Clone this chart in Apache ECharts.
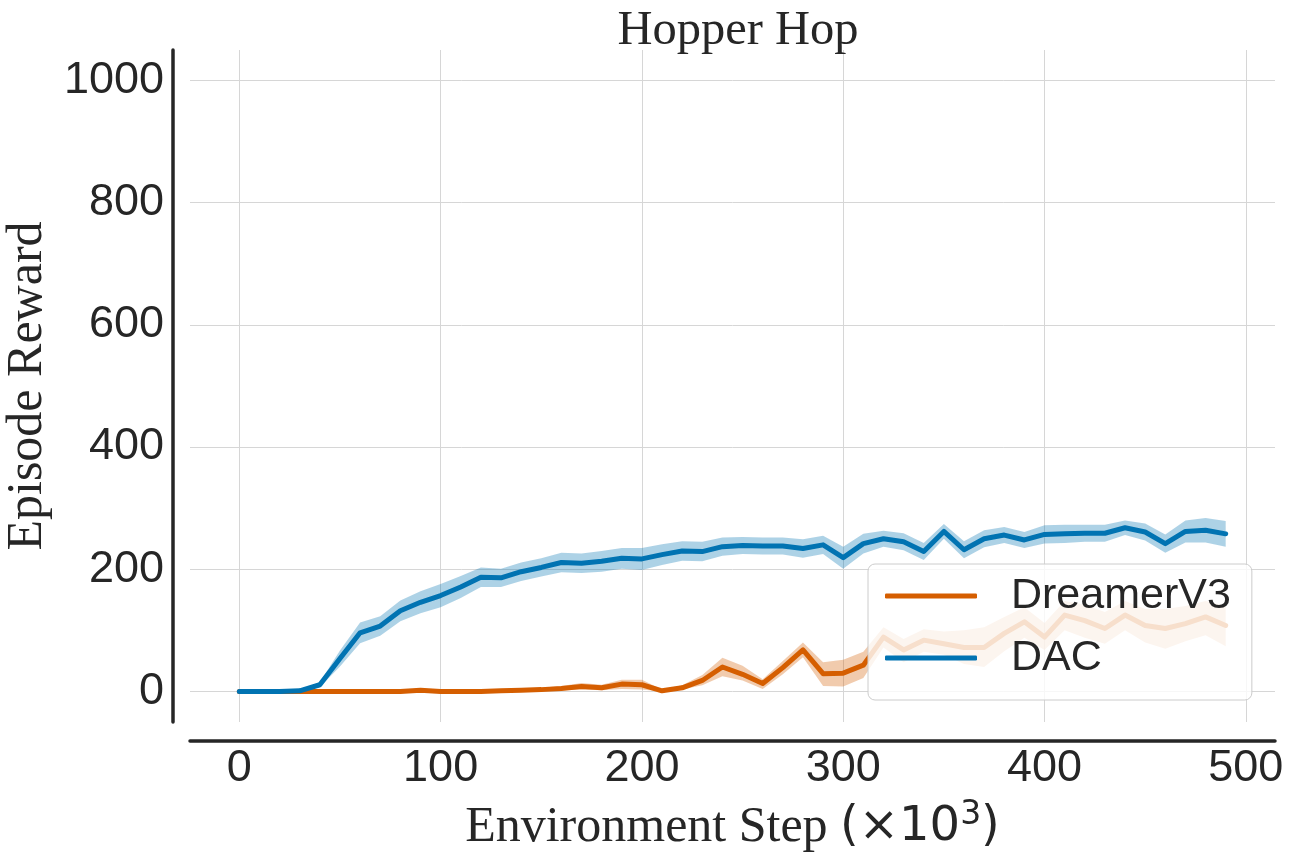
<!DOCTYPE html>
<html>
<head>
<meta charset="utf-8">
<script src="https://cdn.jsdelivr.net/npm/echarts@6/dist/echarts.min.js"></script>
<style>
html, body { margin: 0; padding: 0; background: #fff; }
#chart { width: 1296px; height: 864px; }
</style>
</head>
<body>
<div id="chart"></div>
<script>
// environment steps (x10^3)
var steps = [0, 10, 20, 30, 40, 50, 60, 70, 80, 90,
	100, 110, 120, 130, 140, 150, 160, 170, 180, 190,
	200, 210, 220, 230, 240, 250, 260, 270, 280, 290,
	300, 310, 320, 330, 340, 350, 360, 370, 380, 390,
	400, 410, 420, 430, 440, 450, 460, 470, 480, 490];

var dacMean = [0, 0, 0, 1, 11, 54, 96, 107, 132, 146,
	157, 171, 187, 186, 196, 203, 211, 210, 213, 218,
	217, 224, 230, 229, 237, 239, 238, 238, 234, 240,
	219, 242, 250, 245, 229, 262, 232, 250, 256, 248,
	257, 258, 259, 259, 268, 261, 242, 262, 264, 258];
var dacLow = [0, 0, 0, 0, 7, 41, 79, 91, 115, 128,
	138, 153, 171, 171, 181, 188, 195, 194, 196, 201,
	199, 207, 214, 213, 222, 225, 224, 224, 219, 225,
	201, 226, 237, 231, 215, 250, 218, 236, 243, 235,
	242, 243, 245, 245, 256, 247, 227, 244, 244, 237];
var dacHigh = [0, 0, 0, 2, 15, 67, 113, 123, 149, 164,
	176, 189, 203, 201, 211, 218, 227, 226, 230, 235,
	235, 241, 246, 245, 252, 253, 252, 252, 249, 255,
	237, 258, 263, 259, 243, 274, 246, 264, 269, 261,
	272, 273, 273, 273, 280, 275, 257, 280, 284, 279];

var dreamerMean = [0, 0, 0, 0, 0, 0, 0, 0, 0, 2,
	0, 0, 0, 1, 2, 3, 5, 8, 6, 12,
	11, 1, 6, 18, 40, 28, 13, 39, 68, 29,
	30, 43, 89, 68, 84, 78, 72, 72, 95, 114,
	89, 125, 116, 103, 125, 108, 103, 111, 122, 108];
var dreamerLow = [0, 0, 0, 0, 0, 0, 0, 0, 0, 0,
	0, 0, 0, 0, 1, 1, 2, 3, 2, 4,
	3, 0, 3, 10, 25, 18, 4, 28, 56, 9,
	8, 22, 72, 48, 65, 60, 45, 40, 66, 88,
	68, 100, 88, 78, 100, 80, 70, 82, 92, 74];
var dreamerHigh = [0, 0, 0, 0, 0, 0, 0, 0, 0, 4,
	1, 1, 1, 2, 4, 6, 9, 14, 11, 19,
	19, 3, 10, 27, 55, 42, 20, 50, 80, 48,
	52, 65, 105, 86, 102, 98, 100, 105, 122, 138,
	112, 148, 142, 130, 148, 135, 135, 140, 148, 140];

var xTicks = [0, 100, 200, 300, 400, 500];
var yTicks = [0, 200, 400, 600, 800, 1000];

var ink = '#262626';
var blue = '#0173b2';
var orange = '#d55e00';

function pairs(ys) {
	return steps.map(function (s, i) { return [s, ys[i]]; });
}

// shaded band drawn as one polygon through the axis scales
function band(name, low, high, color) {
	return {
		type: 'custom',
		name: name,
		silent: true,
		z: 1,
		data: steps.map(function (s, i) { return [s, low[i], high[i]]; }),
		encode: { x: 0, y: [1, 2] },
		renderItem: function (params, api) {
			if (params.dataIndex !== 0) return null;
			var pts = [];
			for (var i = 0; i < steps.length; i++) pts.push(api.coord([steps[i], high[i]]));
			for (var j = steps.length - 1; j >= 0; j--) pts.push(api.coord([steps[j], low[j]]));
			return {
				type: 'polygon',
				shape: { points: pts },
				style: { fill: color, opacity: 0.32 }
			};
		}
	};
}

function line(name, ys, color) {
	return {
		type: 'line',
		name: name,
		data: pairs(ys),
		color: color,
		showSymbol: false,
		z: 2,
		lineStyle: { color: color, width: 5, join: 'round', cap: 'round' }
	};
}

function plain(v) {
	return String(v);
}

var chart = echarts.init(document.getElementById('chart'));
chart.setOption({
	animation: false,
	backgroundColor: '#fff',
	title: {
		text: 'Hopper Hop',
		left: 733,
		top: 2,
		textAlign: 'center',
		textStyle: { fontFamily: 'Liberation Serif', fontSize: 48.5, fontWeight: 'normal', color: ink }
	},
	grid: { left: 190, right: 21, top: 50, bottom: 142, outerBoundsMode: 'none', containLabel: false },
	legend: {
		data: ['DreamerV3', 'DAC'],
		orient: 'vertical',
		left: 868,
		top: 564,
		padding: [10, 21, 20, 17],
		itemGap: 18,
		itemWidth: 92,
		itemHeight: 5,
		icon: 'roundRect',
		backgroundColor: 'rgba(255,255,255,0.8)',
		borderColor: '#cccccc',
		borderWidth: 1,
		borderRadius: 7,
		textStyle: {
			fontFamily: 'Liberation Sans', fontSize: 43, color: ink,
			lineHeight: 44, padding: [0, 0, 0, 29]
		}
	},
	xAxis: {
		type: 'value',
		min: -24.5,
		max: 514.5,
		offset: 19,
		axisLine: { onZero: false, lineStyle: { color: ink, width: 3.5 } },
		axisTick: { show: false, customValues: xTicks },
		axisLabel: { customValues: xTicks, formatter: plain, fontFamily: 'Liberation Sans', fontSize: 45, color: ink, margin: 5 },
		splitLine: { show: true, lineStyle: { color: '#d6d6d6', width: 1 } },
		name: '{a|Environment Step }{b|(×10}{sup|3}{b|)}',
		nameLocation: 'middle',
		nameGap: 58,
		nameTextStyle: {
			rich: {
				a: { fontFamily: 'Liberation Serif', fontSize: 50, color: ink, lineHeight: 58 },
				b: { fontFamily: 'DejaVu Sans', fontSize: 48, color: ink, lineHeight: 58 },
				sup: { fontFamily: 'DejaVu Sans', fontSize: 33, color: ink, lineHeight: 33, verticalAlign: 'top' }
			}
		}
	},
	yAxis: {
		type: 'value',
		min: -50,
		max: 1050,
		offset: 17,
		axisLine: { show: true, onZero: false, lineStyle: { color: ink, width: 3.5 } },
		axisTick: { show: false, customValues: yTicks },
		axisLabel: { customValues: yTicks, formatter: plain, fontFamily: 'Liberation Sans', fontSize: 45, color: ink, margin: 9 },
		splitLine: { show: true, lineStyle: { color: '#d6d6d6', width: 1 } },
		name: 'Episode Reward',
		nameLocation: 'middle',
		nameGap: 118,
		nameTextStyle: { fontFamily: 'Liberation Serif', fontSize: 50, color: ink }
	},
	series: [
		band('DreamerV3 band', dreamerLow, dreamerHigh, orange),
		line('DreamerV3', dreamerMean, orange),
		band('DAC band', dacLow, dacHigh, blue),
		line('DAC', dacMean, blue)
	]
});
</script>
</body>
</html>
